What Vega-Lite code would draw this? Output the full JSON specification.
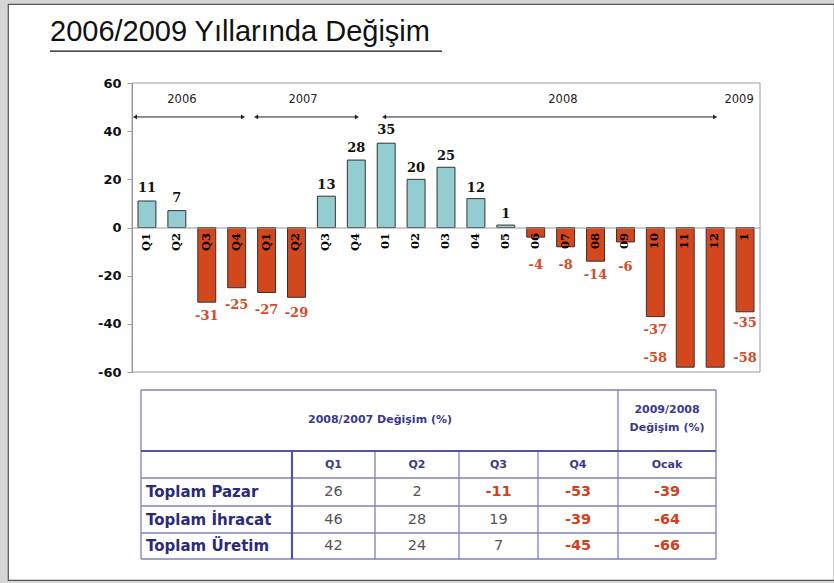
{
  "$schema": "https://vega.github.io/schema/vega-lite/v6.json",
  "width": 826,
  "height": 576,
  "autosize": {"type": "none"},
  "padding": {"left": 8, "top": 4, "right": 0, "bottom": 3},
  "background": "#d6d6d6",
  "config": {"view": {"stroke": "#555555", "fill": "white", "strokeWidth": 1.2}},
  "title": {
    "text": "2006/2009 Yıllarında Değişim",
    "anchor": "start",
    "frame": "group",
    "orient": "top",
    "offset": 0,
    "baseline": "alphabetic",
    "dx": 42,
    "dy": 66,
    "font": "Liberation Sans",
    "fontSize": 29,
    "fontWeight": "normal",
    "color": "#111111"
  },
  "datasets": {
    "bars": [
      {"k": "2006-Q1", "v": 11}, {"k": "2006-Q2", "v": 7}, {"k": "2006-Q3", "v": -31}, {"k": "2006-Q4", "v": -25},
      {"k": "2007-Q1", "v": -27}, {"k": "2007-Q2", "v": -29}, {"k": "2007-Q3", "v": 13}, {"k": "2007-Q4", "v": 28},
      {"k": "2008-01", "v": 35}, {"k": "2008-02", "v": 20}, {"k": "2008-03", "v": 25}, {"k": "2008-04", "v": 12},
      {"k": "2008-05", "v": 1}, {"k": "2008-06", "v": -4}, {"k": "2008-07", "v": -8}, {"k": "2008-08", "v": -14},
      {"k": "2008-09", "v": -6}, {"k": "2008-10", "v": -37}, {"k": "2008-11", "v": -58}, {"k": "2008-12", "v": -58},
      {"k": "2009-1", "v": -35}
    ],
    "labels": [
      {"k": "2006-Q1", "ly": 16.4, "v": 11}, {"k": "2006-Q2", "ly": 12.3, "v": 7},
      {"k": "2006-Q3", "ly": -36.7, "v": -31}, {"k": "2006-Q4", "ly": -32.2, "v": -25},
      {"k": "2007-Q1", "ly": -34.3, "v": -27}, {"k": "2007-Q2", "ly": -35.5, "v": -29},
      {"k": "2007-Q3", "ly": 17.7, "v": 13}, {"k": "2007-Q4", "ly": 33.0, "v": 28},
      {"k": "2008-01", "ly": 40.5, "v": 35}, {"k": "2008-02", "ly": 24.7, "v": 20},
      {"k": "2008-03", "ly": 29.7, "v": 25}, {"k": "2008-04", "ly": 16.4, "v": 12},
      {"k": "2008-05", "ly": 5.6, "v": 1}, {"k": "2008-06", "ly": -15.6, "v": -4},
      {"k": "2008-07", "ly": -15.6, "v": -8}, {"k": "2008-08", "ly": -19.7, "v": -14},
      {"k": "2008-09", "ly": -16.4, "v": -6}, {"k": "2008-10", "ly": -42.6, "v": -37},
      {"k": "2008-10", "ly": -54.2, "v": -58}, {"k": "2009-1", "ly": -54.2, "v": -58},
      {"k": "2009-1", "ly": -39.7, "v": -35}
    ],
    "years": [
      {"p": 1.67, "t": "2006"}, {"p": 5.72, "t": "2007"}, {"p": 14.41, "t": "2008"}, {"p": 20.3, "t": "2009"}
    ],
    "arrows": [
      {"a": 0.1, "b": 3.71}, {"a": 4.15, "b": 7.52}, {"a": 8.43, "b": 19.5}
    ],
    "thin": [
      {"x1": 0, "x2": 575, "y1": 0, "y2": 0}, {"x1": 0, "x2": 575, "y1": 88, "y2": 88},
      {"x1": 0, "x2": 575, "y1": 116, "y2": 116}, {"x1": 0, "x2": 575, "y1": 143, "y2": 143},
      {"x1": 0, "x2": 575, "y1": 169, "y2": 169}, {"x1": 0, "x2": 0, "y1": 0, "y2": 169},
      {"x1": 575, "x2": 575, "y1": 0, "y2": 169}, {"x1": 477, "x2": 477, "y1": 0, "y2": 169},
      {"x1": 234, "x2": 234, "y1": 61, "y2": 169}, {"x1": 318, "x2": 318, "y1": 61, "y2": 169},
      {"x1": 397, "x2": 397, "y1": 61, "y2": 169}
    ],
    "thick": [
      {"x1": 0, "x2": 575, "y1": 61, "y2": 61}, {"x1": 151, "x2": 151, "y1": 61, "y2": 169}
    ],
    "heads": [
      {"x": 239, "y": 30, "t": "2008/2007 Değişim  (%)"},
      {"x": 526, "y": 20, "t": "2009/2008"},
      {"x": 526, "y": 38, "t": "Değişim (%)"},
      {"x": 192.5, "y": 74.5, "t": "Q1"}, {"x": 276, "y": 74.5, "t": "Q2"},
      {"x": 357.5, "y": 74.5, "t": "Q3"}, {"x": 437, "y": 74.5, "t": "Q4"},
      {"x": 526, "y": 74.5, "t": "Ocak"}
    ],
    "rows": [
      {"y": 102, "t": "Toplam Pazar"}, {"y": 129.5, "t": "Toplam İhracat"}, {"y": 156, "t": "Toplam Üretim"}
    ],
    "vals": [
      {"x": 192.5, "y": 102, "v": 26}, {"x": 276, "y": 102, "v": 2}, {"x": 357.5, "y": 102, "v": -11}, {"x": 437, "y": 102, "v": -53}, {"x": 526, "y": 102, "v": -39},
      {"x": 192.5, "y": 129.5, "v": 46}, {"x": 276, "y": 129.5, "v": 28}, {"x": 357.5, "y": 129.5, "v": 19}, {"x": 437, "y": 129.5, "v": -39}, {"x": 526, "y": 129.5, "v": -64},
      {"x": 192.5, "y": 156, "v": 42}, {"x": 276, "y": 156, "v": 24}, {"x": 357.5, "y": 156, "v": 7}, {"x": 437, "y": 156, "v": -45}, {"x": 526, "y": 156, "v": -66}
    ]
  },
  "layer": [
    {
      "layer": [
        {
          "data": {"name": "bars"},
          "mark": {"type": "bar", "stroke": "#333333", "strokeWidth": 1},
          "encoding": {
            "x": {
              "field": "k", "type": "nominal", "sort": null,
              "scale": {
                "domain": ["2006-Q1","2006-Q2","2006-Q3","2006-Q4","2007-Q1","2007-Q2","2007-Q3","2007-Q4","2008-01","2008-02","2008-03","2008-04","2008-05","2008-06","2008-07","2008-08","2008-09","2008-10","2008-11","2008-12","2009-1"],
                "range": [124, 752], "paddingInner": 0.4, "paddingOuter": 0.2
              },
              "axis": {
                "orient": "bottom", "offset": -352.5, "title": null,
                "labelExpr": "split(datum.value, '-')[1]",
                "labelAngle": 270, "labelFont": "DejaVu Serif", "labelFontWeight": "bold",
                "labelFontSize": 11.5, "labelColor": "#000000", "ticks": false, "labelPadding": 5,
                "domainColor": "#999999", "zindex": 1, "labelOverlap": false
              }
            },
            "y": {
              "field": "v", "type": "quantitative",
              "scale": {"domain": [-60, 60], "range": [368, 79], "nice": false, "zero": false},
              "axis": {
                "orient": "left", "offset": -124, "title": null, "grid": false,
                "values": [-60, -40, -20, 0, 20, 40, 60],
                "labelExpr": "replace(datum.label, '−', '-')",
                "labelFont": "DejaVu Sans", "labelFontWeight": "bold", "labelFontSize": 13,
                "labelColor": "#111111", "tickColor": "#999999", "tickSize": 5,
                "domainColor": "#999999", "labelPadding": 6
              }
            },
            "fill": {"condition": {"test": "datum.v < 0", "value": "#D3471F"}, "value": "#93CDD1"}
          }
        },
        {
          "data": {"name": "labels"},
          "mark": {"type": "text", "font": "DejaVu Serif", "fontWeight": "bold", "fontSize": 13, "baseline": "middle"},
          "encoding": {
            "x": {"field": "k", "type": "nominal", "sort": null},
            "y": {"field": "ly", "type": "quantitative"},
            "text": {"field": "v", "type": "nominal"},
            "color": {"condition": {"test": "datum.v < 0", "value": "#D54B2A"}, "value": "#111111"}
          }
        }
      ]
    },
    {
      "layer": [
        {
          "data": {"values": [{}]},
          "mark": {"type": "rect", "fillOpacity": 0, "stroke": "#9a9a9a", "strokeWidth": 1},
          "encoding": {
            "x": {"datum": 0, "type": "quantitative", "scale": {"domain": [0, 21], "range": [124, 752], "nice": false, "zero": false}, "axis": null},
            "x2": {"datum": 21},
            "y": {"datum": -60, "type": "quantitative", "scale": {"domain": [-60, 60], "range": [368, 79], "nice": false, "zero": false}, "axis": null},
            "y2": {"datum": 60}
          }
        },
        {
          "data": {"name": "arrows"},
          "mark": {"type": "rule", "color": "#222222", "strokeWidth": 1},
          "encoding": {
            "x": {"field": "a", "type": "quantitative"},
            "x2": {"field": "b"},
            "y": {"datum": 45.9, "type": "quantitative"}
          }
        },
        {
          "data": {"name": "arrows"},
          "mark": {"type": "point", "shape": "triangle-left", "filled": true, "size": 22, "color": "#222222", "opacity": 1},
          "encoding": {
            "x": {"field": "a", "type": "quantitative"},
            "y": {"datum": 45.9, "type": "quantitative"}
          }
        },
        {
          "data": {"name": "arrows"},
          "mark": {"type": "point", "shape": "triangle-right", "filled": true, "size": 22, "color": "#222222", "opacity": 1},
          "encoding": {
            "x": {"field": "b", "type": "quantitative"},
            "y": {"datum": 45.9, "type": "quantitative"}
          }
        },
        {
          "data": {"name": "years"},
          "mark": {"type": "text", "font": "DejaVu Sans", "fontSize": 11.5, "color": "#222222", "baseline": "middle"},
          "encoding": {
            "x": {"field": "p", "type": "quantitative"},
            "y": {"datum": 53, "type": "quantitative"},
            "text": {"field": "t"}
          }
        },
        {
          "data": {"values": [{}]},
          "mark": {"type": "rule", "color": "#111111", "strokeWidth": 1.3},
          "encoding": {
            "x": {"datum": -2.742, "type": "quantitative"},
            "x2": {"datum": 10.37},
            "y": {"datum": 73.2, "type": "quantitative"}
          }
        }
      ]
    },
    {
      "layer": [
        {
          "data": {"name": "thin"},
          "mark": {"type": "rule", "color": "#8080bb", "strokeWidth": 1.3},
          "encoding": {
            "x": {"field": "x1", "type": "quantitative", "scale": {"domain": [0, 575], "range": [133, 708], "nice": false, "zero": false}, "axis": null},
            "x2": {"field": "x2"},
            "y": {"field": "y1", "type": "quantitative", "scale": {"domain": [0, 169], "range": [386, 555], "nice": false, "zero": false}, "axis": null},
            "y2": {"field": "y2"}
          }
        },
        {
          "data": {"name": "thick"},
          "mark": {"type": "rule", "color": "#54549a", "strokeWidth": 2.2},
          "encoding": {
            "x": {"field": "x1", "type": "quantitative"},
            "x2": {"field": "x2"},
            "y": {"field": "y1", "type": "quantitative"},
            "y2": {"field": "y2"}
          }
        },
        {
          "data": {"name": "heads"},
          "mark": {"type": "text", "font": "DejaVu Sans", "fontWeight": "bold", "fontSize": 11, "color": "#3a3a8a", "baseline": "middle"},
          "encoding": {
            "x": {"field": "x", "type": "quantitative"},
            "y": {"field": "y", "type": "quantitative"},
            "text": {"field": "t"}
          }
        },
        {
          "data": {"name": "rows"},
          "mark": {"type": "text", "font": "DejaVu Sans", "fontWeight": "bold", "fontSize": 15, "color": "#2b2b7a", "baseline": "middle", "align": "left"},
          "encoding": {
            "x": {"datum": 5, "type": "quantitative"},
            "y": {"field": "y", "type": "quantitative"},
            "text": {"field": "t"}
          }
        },
        {
          "data": {"name": "vals"},
          "transform": [{"filter": "datum.v >= 0"}],
          "mark": {"type": "text", "font": "DejaVu Sans", "fontSize": 14.5, "color": "#555555", "baseline": "middle"},
          "encoding": {
            "x": {"field": "x", "type": "quantitative"},
            "y": {"field": "y", "type": "quantitative"},
            "text": {"field": "v", "type": "nominal"}
          }
        },
        {
          "data": {"name": "vals"},
          "transform": [{"filter": "datum.v < 0"}],
          "mark": {"type": "text", "font": "DejaVu Sans", "fontWeight": "bold", "fontSize": 14.5, "color": "#D2401E", "baseline": "middle"},
          "encoding": {
            "x": {"field": "x", "type": "quantitative"},
            "y": {"field": "y", "type": "quantitative"},
            "text": {"field": "v", "type": "nominal"}
          }
        }
      ]
    }
  ],
  "resolve": {"scale": {"x": "independent", "y": "independent"}}
}
